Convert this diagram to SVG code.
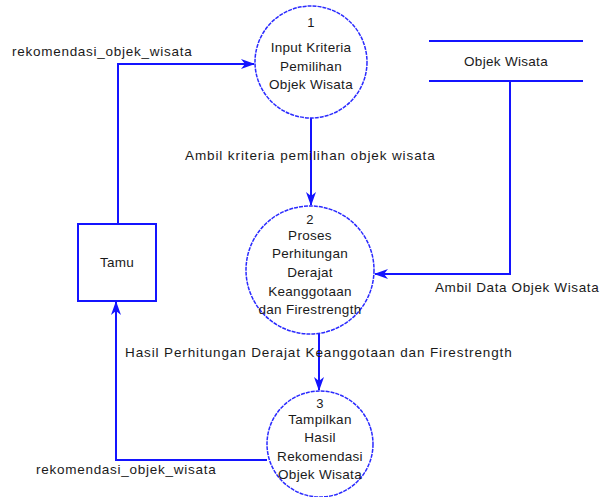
<svg xmlns="http://www.w3.org/2000/svg" width="602" height="497" viewBox="0 0 602 497">
<style>
text{font-family:"Liberation Sans",Arial,sans-serif;font-size:13.5px;fill:#1a1a1a;letter-spacing:0.3px}
.c{text-anchor:middle}
.n{font-size:13px}
.proc{fill:#fff;stroke:#2a2aff;stroke-width:1.5;stroke-dasharray:4 1}
.flow{fill:none;stroke:#1414ff;stroke-width:2}
.box{fill:#fff;stroke:#1414ff;stroke-width:2}
</style>
<defs>
<marker id="ah" markerWidth="14" markerHeight="10" refX="13" refY="5" orient="auto" markerUnits="userSpaceOnUse">
<path d="M0,0 L4,5 L0,10 L14,5 Z" fill="#1414ff"/>
</marker>
</defs>
<rect width="602" height="497" fill="#fff"/>
<g id="connectors">
<polyline class="flow" points="118,224 118,64 254,64" marker-end="url(#ah)"/>
<line class="flow" x1="311" y1="118" x2="311" y2="205" marker-end="url(#ah)"/>
<polyline class="flow" points="510,81 510,274 375,274" marker-end="url(#ah)"/>
<line class="flow" x1="319" y1="334" x2="319" y2="390" marker-end="url(#ah)"/>
<polyline class="flow" points="267,460 116,460 116,302" marker-end="url(#ah)"/>
<text x="12" y="56" textLength="180" lengthAdjust="spacing">rekomendasi_objek_wisata</text>
<text x="185" y="160" textLength="250" lengthAdjust="spacing">Ambil kriteria pemilihan objek wisata</text>
<text x="435" y="292" textLength="164" lengthAdjust="spacing">Ambil Data Objek Wisata</text>
<text x="125" y="357" textLength="387" lengthAdjust="spacing">Hasil Perhitungan Derajat Keanggotaan dan Firestrength</text>
<text x="36" y="474" textLength="180" lengthAdjust="spacing">rekomendasi_objek_wisata</text>
</g>
<g id="p1">
<circle class="proc" cx="311" cy="62" r="56"/>
<text class="c n" x="311" y="27">1</text>
<text class="c" x="311" y="52">Input Kriteria</text>
<text class="c" x="311" y="71">Pemilihan</text>
<text class="c" x="311" y="89">Objek Wisata</text>
</g>
<g id="p2">
<circle class="proc" cx="310" cy="270" r="64"/>
<text class="c n" x="310" y="224">2</text>
<text class="c" x="310" y="240">Proses</text>
<text class="c" x="310" y="258">Perhitungan</text>
<text class="c" x="310" y="277">Derajat</text>
<text class="c" x="310" y="296">Keanggotaan</text>
<text class="c" x="310" y="314">dan Firestrength</text>
</g>
<g id="p3">
<circle class="proc" cx="320" cy="444" r="53"/>
<text class="c n" x="320" y="408">3</text>
<text class="c" x="320" y="424">Tampilkan</text>
<text class="c" x="320" y="442">Hasil</text>
<text class="c" x="320" y="461">Rekomendasi</text>
<text class="c" x="320" y="479">Objek Wisata</text>
</g>
<g id="tamu">
<rect class="box" x="78" y="224" width="78" height="77"/>
<text class="c" x="117" y="267">Tamu</text>
</g>
<g id="store">
<line class="flow" x1="429" y1="41" x2="583" y2="41"/>
<line class="flow" x1="429" y1="81" x2="583" y2="81"/>
<text class="c" x="506" y="66">Objek Wisata</text>
</g>
</svg>
